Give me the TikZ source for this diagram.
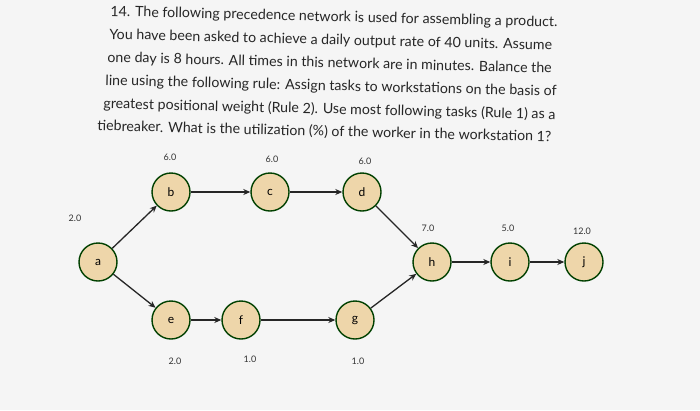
\documentclass[tikz,border=0pt]{standalone}
\usepackage{fontspec}
\setmainfont{Lato}
\usetikzlibrary{arrows.meta}
\begin{document}
\begin{tikzpicture}[x=1pt,y=-1pt,
  task/.style={circle,draw=black!75!green,line width=1.4pt,fill={rgb,255:red,238;green,214;blue,170},minimum size=38pt,inner sep=0pt,font=\large},
  arc/.style={-{Stealth[length=7pt,width=6pt]},line width=1.3pt,draw=black!85},
  num/.style={font=\small,text=black!80},
  txt/.style={anchor=west,font=\fontsize{14.2}{16}\selectfont,text=black!85,rotate=-1.4}]
\useasboundingbox[fill=black!4] (0,0) rectangle (700,410);
\node[txt] (t1) at (107,12) {14. The following precedence network is used for assembling a product.};
\node[txt] (t2) at (106,35) {You have been asked to achieve a daily output rate of 40 units. Assume};
\node[txt] (t3) at (104,58) {one day is 8 hours. All times in this network are in minutes. Balance the};
\node[txt] (t4) at (102,81) {line using the following rule: Assign tasks to workstations on the basis of};
\node[txt] (t5) at (100,104) {greatest positional weight (Rule 2). Use most following tasks (Rule 1) as a};
\node[txt] (t6) at (94,126) {tiebreaker. What is the utilization (\%) of the worker in the workstation 1?};
\node[task] (a) at (98,262) {a};
\node[task] (b) at (171,192) {b};
\node[task] (c) at (270,192) {c};
\node[task] (d) at (362,192) {d};
\node[task] (e) at (171,320) {e};
\node[task] (f) at (241,320) {f};
\node[task] (g) at (355,320) {g};
\node[task] (h) at (432,262) {h};
\node[task] (i) at (510,262) {i};
\node[task] (j) at (584,262) {j};
\node[num] (na) at (75,218) {2.0};
\node[num] (nb) at (170,157) {6.0};
\node[num] (nc) at (272,159) {6.0};
\node[num] (nd) at (365,161) {6.0};
\node[num] (nh) at (428,228) {7.0};
\node[num] (ni) at (508,228) {5.0};
\node[num] (nj) at (582,231) {12.0};
\node[num] (ne) at (175,361) {2.0};
\node[num] (nf) at (250,359) {1.0};
\node[num] (ng) at (358,361) {1.0};
\draw[arc] (a) -- (b);
\draw[arc] (b) -- (c);
\draw[arc] (c) -- (d);
\draw[arc] (d) -- (h);
\draw[arc] (a) -- (e);
\draw[arc] (e) -- (f);
\draw[arc] (f) -- (g);
\draw[arc] (g) -- (h);
\draw[arc] (h) -- (i);
\draw[arc] (i) -- (j);
\end{tikzpicture}
\end{document}
